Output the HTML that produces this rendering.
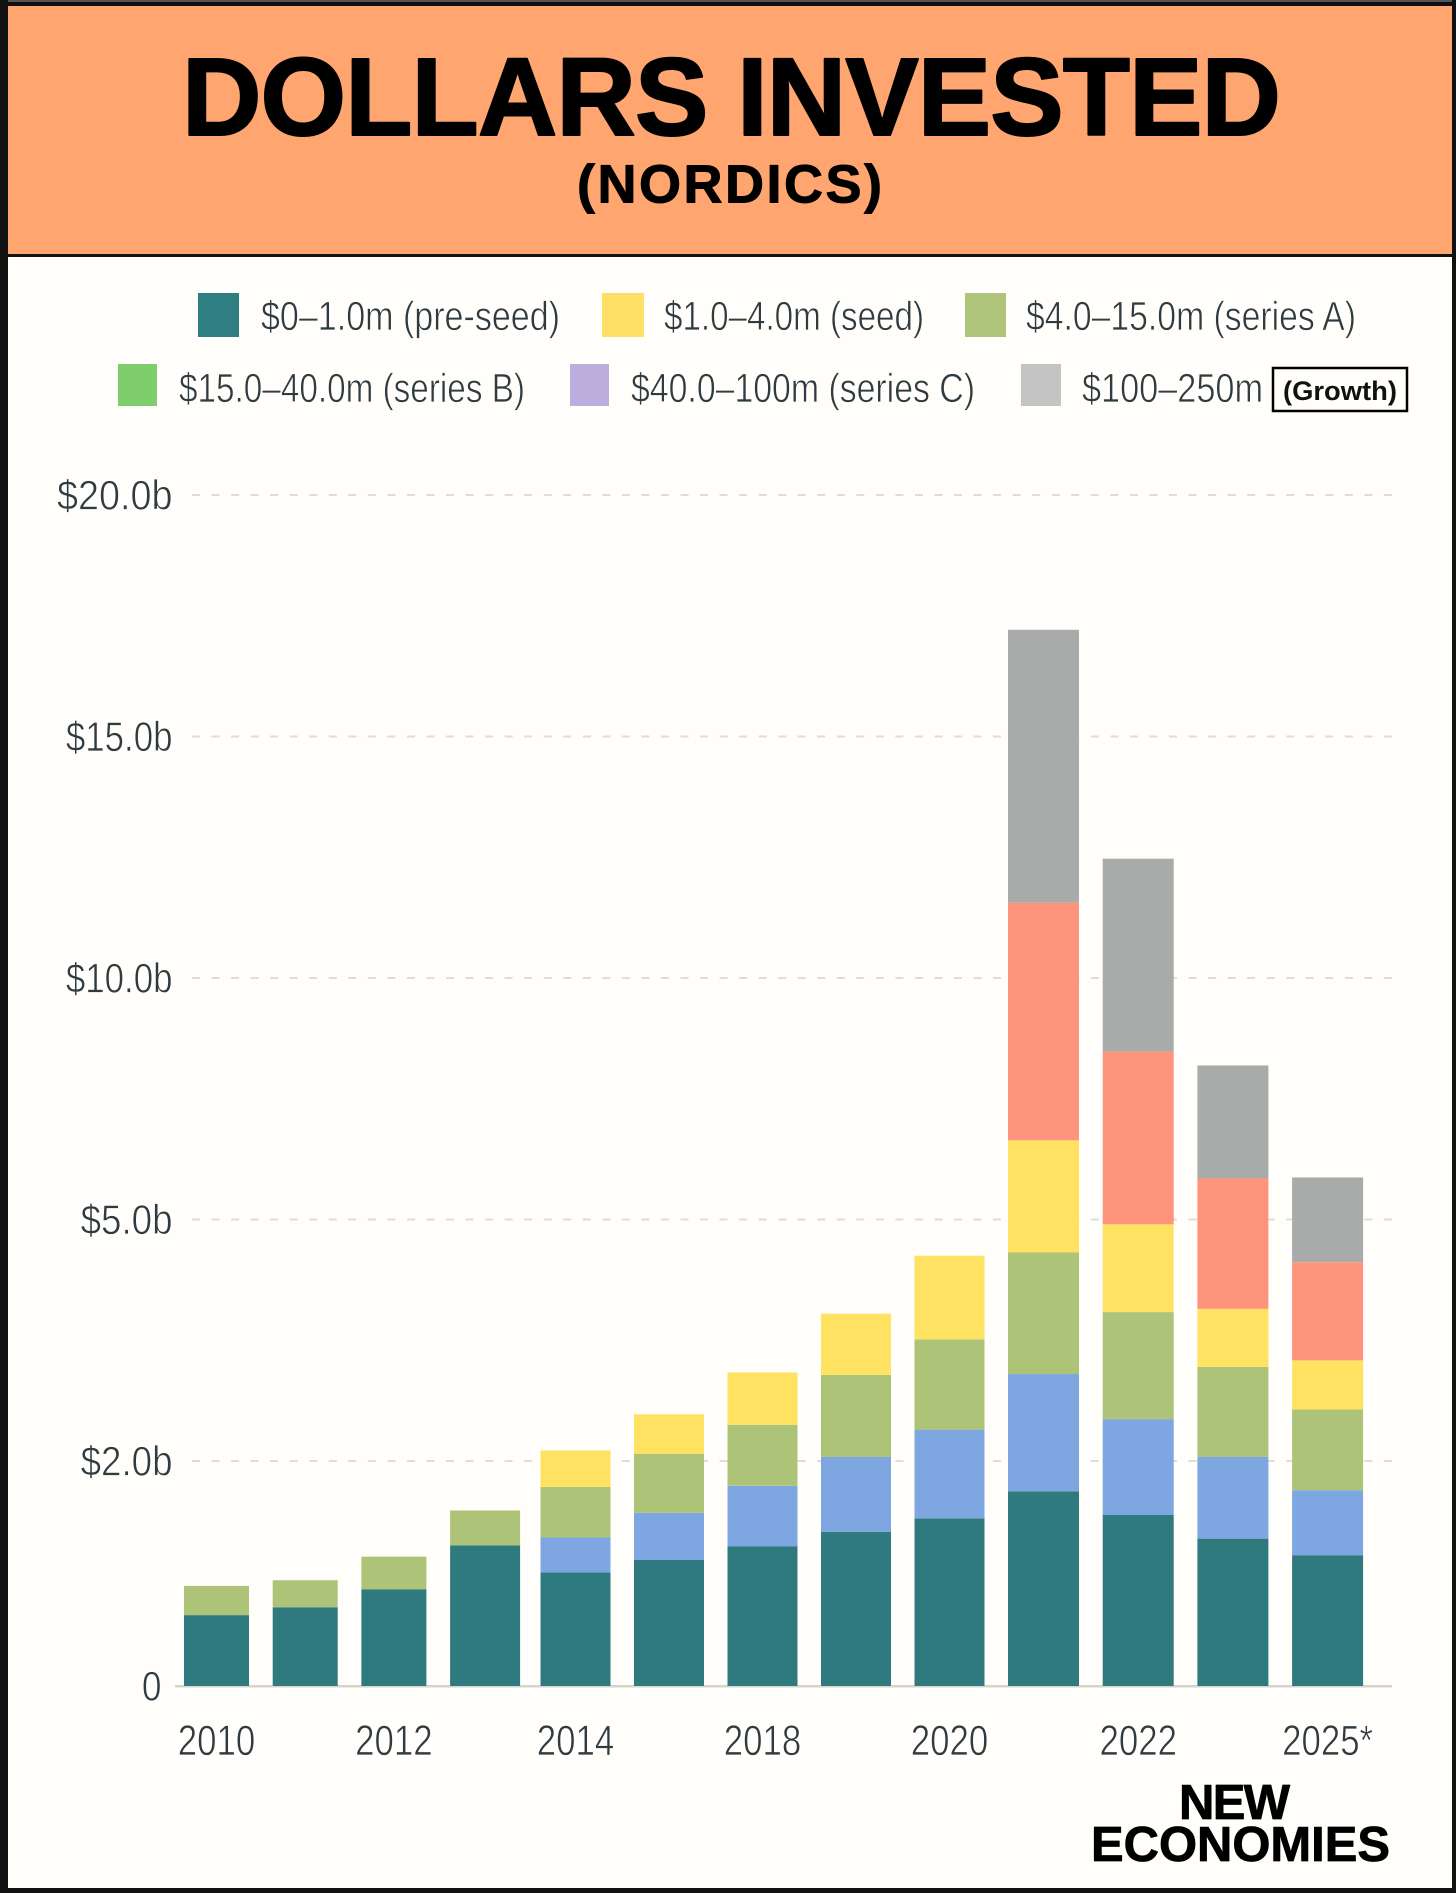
<!DOCTYPE html>
<html lang="en">
<head>
<meta charset="utf-8">
<title>Dollars Invested (Nordics)</title>
<style>
html,body{margin:0;padding:0;background:#FFFEFA;}
svg{display:block;font-family:"Liberation Sans",Arial,sans-serif;}
.leg{font-size:41px;fill:#2f3b41;stroke:#FFFEFA;stroke-width:0.7px;paint-order:fill stroke;}
.tick{font-size:41.5px;fill:#2f3b41;stroke:#FFFEFA;stroke-width:0.7px;paint-order:fill stroke;}
.xt{font-size:43px;fill:#2f3b41;stroke:#FFFEFA;stroke-width:0.7px;paint-order:fill stroke;}
.heavy{font-weight:700;fill:#000;stroke:#000;stroke-linejoin:round;}
</style>
</head>
<body>
<svg id="chart" xmlns="http://www.w3.org/2000/svg" width="1456" height="1893" viewBox="0 0 1456 1893">
  <rect x="0" y="0" width="1456" height="1893" fill="#FFFEFA"/>
  <rect x="7" y="6" width="1446" height="249" fill="#FFA56F"/>
  <rect x="7" y="254" width="1446" height="3" fill="#111"/>
  <text class="heavy" x="182" y="135" font-size="110" stroke-width="2" textLength="1099" lengthAdjust="spacing">DOLLARS INVESTED</text>
  <text class="heavy" x="577" y="202.5" font-size="54" stroke-width="1" textLength="305" lengthAdjust="spacing">(NORDICS)</text>

  <g>
    <g>
      <rect x="198" y="293" width="41" height="44" fill="#2F7F82"/>
      <text class="leg" x="261" y="330" textLength="299" lengthAdjust="spacingAndGlyphs">$0–1.0m (pre-seed)</text>
    </g>
    <g>
      <rect x="602" y="293" width="42" height="44" fill="#FFE066"/>
      <text class="leg" x="664" y="330" textLength="260" lengthAdjust="spacingAndGlyphs">$1.0–4.0m (seed)</text>
    </g>
    <g>
      <rect x="965" y="293" width="41" height="44" fill="#ADC47A"/>
      <text class="leg" x="1026" y="330" textLength="330" lengthAdjust="spacingAndGlyphs">$4.0–15.0m (series A)</text>
    </g>
    <g>
      <rect x="118" y="364" width="39" height="42" fill="#7ECE6E"/>
      <text class="leg" x="179" y="402" textLength="346" lengthAdjust="spacingAndGlyphs">$15.0–40.0m (series B)</text>
    </g>
    <g>
      <rect x="570" y="364" width="39" height="42" fill="#BBAEDD"/>
      <text class="leg" x="631" y="402" textLength="344" lengthAdjust="spacingAndGlyphs">$40.0–100m (series C)</text>
    </g>
    <g>
      <rect x="1021" y="364" width="40" height="42" fill="#C4C4C4"/>
      <text class="leg" x="1082" y="402" textLength="181" lengthAdjust="spacingAndGlyphs">$100–250m</text>
      <rect x="1273" y="368" width="134" height="43" fill="#FFFEFA" stroke="#000" stroke-width="2.5"/>
      <text x="1283" y="400" font-size="27" font-weight="700" fill="#111" textLength="114" lengthAdjust="spacingAndGlyphs">(Growth)</text>
    </g>
  </g>

  <g id="grid"></g>
  <g id="yaxis"></g>
  <rect x="175" y="1685" width="1217" height="2.5" fill="#D6D4CF"/>
  <g id="bars"></g>
  <g id="xaxis"></g>

  <g>
    <text class="heavy" x="1179" y="1819" font-size="49" stroke-width="0.8" textLength="111" lengthAdjust="spacing">NEW</text>
    <text class="heavy" x="1091" y="1861" font-size="49" stroke-width="0.8" textLength="299" lengthAdjust="spacingAndGlyphs">ECONOMIES</text>
  </g>

  <g fill="#111">
    <rect x="0" y="0" width="1456" height="6"/>
    <rect x="0" y="0" width="1456" height="2" fill="#555"/>
    <rect x="0" y="0" width="8" height="1893"/>
    <rect x="1452" y="0" width="4" height="1893"/>
    <rect x="0" y="1888" width="1456" height="5"/>
  </g>
</svg>

<script>
// Chart data ($ billions per stage)
const categories = ["2010","2011","2012","2013","2014","2015","2018","2019","2020","2021","2022","2023","2025*"];
const preSeed = [0.63,0.70,0.86,1.25,1.01,1.12,1.24,1.37,1.49,1.73,1.52,1.31,1.16];
const blueStage = [0,0,0,0,0.31,0.42,0.54,0.68,0.90,1.35,1.00,0.74,0.58];
const sageStage = [0.26,0.24,0.29,0.31,0.45,0.55,0.67,1.02,1.12,1.51,1.33,1.12,0.90];
const yellowStage = [0,0,0,0,0.36,0.49,0.65,0.76,1.04,2.05,1.09,0.72,0.61];
const salmonStage = [0,0,0,0,0,0,0,0,0,4.92,3.54,1.96,1.22];
const grayStage = [0,0,0,0,0,0,0,0,0,5.65,3.99,2.34,1.40];
const yTickValues = [0,2,5,10,15,20];
const yTickLabels = ["0","$2.0b","$5.0b","$10.0b","$15.0b","$20.0b"];

const seriesList = [
  {key:"pre-seed", color:"#2F7A7E", values:preSeed},
  {key:"blue",     color:"#7EA6E0", values:blueStage},
  {key:"sage",     color:"#ADC478", values:sageStage},
  {key:"yellow",   color:"#FFE262", values:yellowStage},
  {key:"salmon",   color:"#FF947C", values:salmonStage},
  {key:"gray",     color:"#A9ABAB", values:grayStage}
];

const SVGNS = "http://www.w3.org/2000/svg";
const BASE_Y = 1686, FIRST_BAND = 225, BAND = 241.5;

// Axis is ordinal-spaced in the source: ticks are evenly spaced, not linear
function yScale(v){
  const n = yTickValues.length;
  let i = 0;
  while (i < n - 2 && v > yTickValues[i + 1]) i++;
  const f = (v - yTickValues[i]) / (yTickValues[i + 1] - yTickValues[i]);
  const start = i === 0 ? 0 : FIRST_BAND + (i - 1) * BAND;
  const size = i === 0 ? FIRST_BAND : BAND;
  return BASE_Y - (start + f * size);
}
// Category band: spacing widens slightly across the chart in the source
function xScale(i){
  if (i <= 3) return 184 + 88.7 * i;
  if (i <= 9) return 540.5 + 93.5 * (i - 4);
  return 1008 + 94.7 * (i - 9);
}
function barWidth(i){
  if (i < 3) return 65;
  return i < 9 ? 70 : 71;
}
function tickScaleX(label){
  if (label === "0") return 0.85;
  if (label.indexOf("1") >= 0) return 0.84;
  return label.length > 5 ? 0.91 : 0.885;
}

const gridG = document.getElementById("grid");
const yG = document.getElementById("yaxis");
yTickValues.forEach(function(v, i){
  const yy = yScale(v);
  if (v > 0) {
    const line = document.createElementNS(SVGNS, "line");
    
    
    line.setAttribute("x1", 192);
    line.setAttribute("x2", 1392);
    line.setAttribute("y1", yy);
    line.setAttribute("y2", yy);
    line.setAttribute("stroke", "#DEDDD8");
    line.setAttribute("stroke-width", 2);
    line.setAttribute("stroke-dasharray", "8 11.54");
    gridG.appendChild(line);
  }
  const t = document.createElementNS(SVGNS, "text");
  
  
  t.setAttribute("class", "tick");
  t.setAttribute("text-anchor", "end");
  t.setAttribute("transform", "translate(" + (v === 0 ? 161.5 : 172.5) + "," + (yy + 14.5) + ") scale(" + tickScaleX(yTickLabels[i]) + ",1)");
  t.textContent = yTickLabels[i];
  yG.appendChild(t);
});

const barsG = document.getElementById("bars");
categories.forEach(function(cat, i){
  const g = document.createElementNS(SVGNS, "g");
  
  
  let cum = 0;
  seriesList.forEach(function(s){
    const val = s.values[i];
    if (!val) return;
    const y0 = yScale(cum);
    cum += val;
    const y1 = yScale(cum);
    const r = document.createElementNS(SVGNS, "rect");
    
    
    r.setAttribute("x", xScale(i));
    r.setAttribute("y", y1);
    r.setAttribute("width", barWidth(i));
    r.setAttribute("height", y0 - y1);
    r.setAttribute("fill", s.color);
    g.appendChild(r);
  });
  barsG.appendChild(g);
});

const xG = document.getElementById("xaxis");
categories.forEach(function(cat, i){
  if (i % 2 !== 0) return;
  const t = document.createElementNS(SVGNS, "text");
  
  
  t.setAttribute("class", "xt");
  t.setAttribute("text-anchor", "middle");
  t.setAttribute("transform", "translate(" + (xScale(i) + barWidth(i) / 2) + ",1755) scale(0.81,1)");
  t.textContent = cat;
  xG.appendChild(t);
});
</script>
</body>
</html>
